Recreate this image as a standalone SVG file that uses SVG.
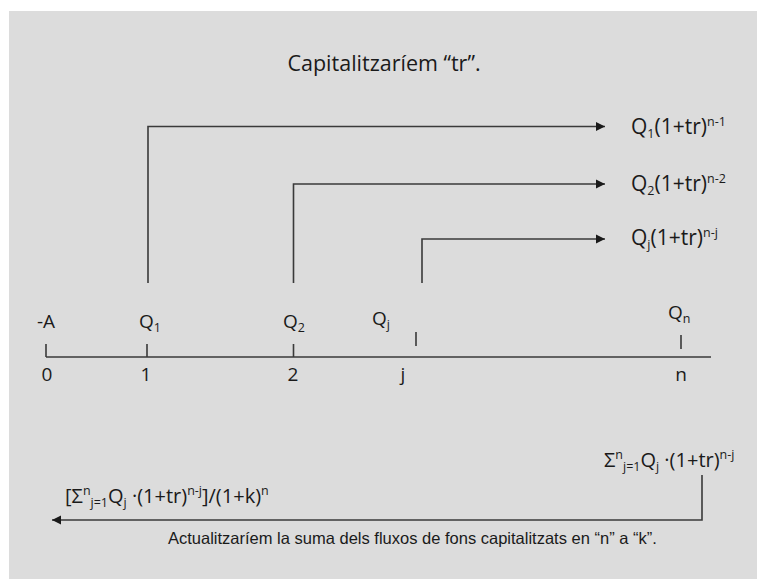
<svg xmlns="http://www.w3.org/2000/svg" width="757" height="579" viewBox="0 0 757 579">
<style>
.t{font-family:"Open Sans","Noto Sans",sans-serif;font-size:20px;fill:#1a1a1a}
.r{font-size:21px}
.h{font-size:21.5px}
.a{font-family:"Open Sans","Noto Sans",sans-serif;font-size:19px;fill:#1a1a1a}
.s{font-size:12.5px}
.c{font-family:"Liberation Sans",Arial,sans-serif;font-size:16.5px;fill:#1a1a1a}
.ln{fill:none;stroke:#3a3a3a;stroke-width:1.6}
</style>
<defs>
<marker id="ah" viewBox="0 0 10 10" refX="10" refY="5" markerWidth="9" markerHeight="10" markerUnits="userSpaceOnUse" orient="auto">
<path d="M0,0 L10,5 L0,10 z" fill="#1a1a1a"/>
</marker>
</defs>
<rect x="9" y="11" width="748" height="568" fill="#dcdcdc"/>
<g id="title"><text class="t h" x="384" y="71" text-anchor="middle">Capitalitzaríem “tr”.</text></g>
<g id="connectors">
<path class="ln" d="M148,283 V126.5 H605" marker-end="url(#ah)"/>
<path class="ln" d="M293.5,283 V184 H605" marker-end="url(#ah)"/>
<path class="ln" d="M422,283 V239 H605" marker-end="url(#ah)"/>
<path class="ln" d="M702,475 V520 H52" marker-end="url(#ah)"/>
</g>
<g id="axis">
<path class="ln" d="M46,357 H711 M46,344 V357 M147,344 V357 M293.5,344 V357 M416,332 V346 M681,335 V349"/>
</g>
<g id="labels-right">
<text class="t r" x="631" y="134">Q<tspan class="s" dy="4">1</tspan><tspan dy="-4">(1+tr)</tspan><tspan class="s" dy="-8">n-1</tspan></text>
<text class="t r" x="631" y="191">Q<tspan class="s" dy="4">2</tspan><tspan dy="-4">(1+tr)</tspan><tspan class="s" dy="-8">n-2</tspan></text>
<text class="t r" x="631" y="245">Q<tspan class="s" dy="4">j</tspan><tspan dy="-4">(1+tr)</tspan><tspan class="s" dy="-8">n-j</tspan></text>
</g>
<g id="labels-top">
<text class="a" x="37" y="328">-A</text>
<text class="a" x="139" y="328">Q<tspan class="s" dy="4">1</tspan></text>
<text class="a" x="283" y="328">Q<tspan class="s" dy="4">2</tspan></text>
<text class="a" x="372" y="325">Q<tspan class="s" dy="4">j</tspan></text>
<text class="a" x="668" y="319">Q<tspan class="s" dy="4">n</tspan></text>
</g>
<g id="labels-bottom">
<text class="a" x="47" y="381" text-anchor="middle">0</text>
<text class="a" x="146" y="381" text-anchor="middle">1</text>
<text class="a" x="293" y="381" text-anchor="middle">2</text>
<text class="a" x="403" y="381" text-anchor="middle">j</text>
<text class="a" x="681" y="381" text-anchor="middle">n</text>
</g>
<g id="sum">
<text class="t" x="604" y="467">Σ<tspan class="s" dy="-8">n</tspan><tspan class="s" dy="12">j=1</tspan><tspan dy="-4">Q</tspan><tspan class="s" dy="4">j</tspan><tspan dy="-4"> ·(1+tr)</tspan><tspan class="s" dy="-8">n-j</tspan></text>
</g>
<g id="present">
<text class="t" x="65" y="503">[Σ<tspan class="s" dy="-8">n</tspan><tspan class="s" dy="12">j=1</tspan><tspan dy="-4">Q</tspan><tspan class="s" dy="4">j</tspan><tspan dy="-4"> ·(1+tr)</tspan><tspan class="s" dy="-8">n-j</tspan><tspan dy="8">]/(1+k)</tspan><tspan class="s" dy="-8">n</tspan></text>
</g>
<g id="caption"><text class="c" x="168" y="544">Actualitzaríem la suma dels fluxos de fons capitalitzats en “n” a “k”.</text></g>
</svg>
